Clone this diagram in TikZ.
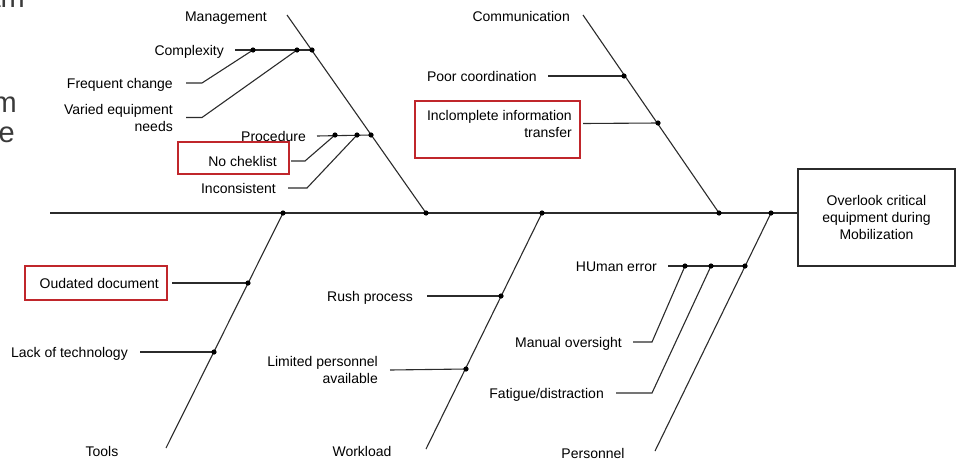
\documentclass[tikz,border=0pt]{standalone}
\usepackage{fontspec}
\setmainfont{Liberation Sans}
\definecolor{ln}{HTML}{2B2B2B}
\definecolor{rbox}{HTML}{C0262B}
\definecolor{frag}{HTML}{3A3A3A}
\begin{document}
\begin{tikzpicture}[x=1pt,y=-1pt,
  lbl/.style={font=\fontsize{14}{17}\selectfont, inner sep=0pt, text=black, anchor=east, text height=10pt, text depth=0pt},
  mlbl/.style={font=\fontsize{14}{17}\selectfont, inner sep=0pt, text=black, anchor=east, align=right},
  cat/.style={font=\fontsize{14}{17}\selectfont, inner sep=0pt, text=black, anchor=center, text height=10pt, text depth=0pt},
  bone/.style={draw=ln, line width=1.1pt},
  redbox/.style={draw=rbox, line width=1.9pt},
  fragtxt/.style={font=\fontsize{29}{34}\selectfont, text=frag, inner sep=0pt, anchor=base east},
]
\useasboundingbox (0,0) rectangle (957,461);

% cut-off fragments at left edge
\node[fragtxt] (f1) at (25,7) {am};
\node[fragtxt] (f2) at (17,112) {m};
\node[fragtxt] (f3) at (15,142) {e};

% head
\node[draw=ln, line width=1.1pt, minimum width=157pt, minimum height=97pt, inner sep=0pt,
      font=\fontsize{14}{17}\selectfont, align=center] (head) at (876.5,217.5)
      {Overlook critical\\equipment during\\Mobilization};

% spine
\coordinate (tail) at (50,213);
\draw[bone] (tail) -- (tail -| head.west);

% junctions on spine
\coordinate (jT) at (283,213);
\coordinate (jM) at (426,213);
\coordinate (jW) at (542,213);
\coordinate (jC) at (719,213);
\coordinate (jP) at (771,213);
% bone ends
\coordinate (eM) at (287,15);
\coordinate (eC) at (583,15);
\coordinate (eT) at (166,448);
\coordinate (eW) at (426,449);
\coordinate (eP) at (655,451);
\draw[bone] (eM) -- (jM);
\draw[bone] (eC) -- (jC);
\draw[bone] (eT) -- (jT);
\draw[bone] (eW) -- (jW);
\draw[bone] (eP) -- (jP);

% category labels
\node[lbl] (mgmt) at (267,16) {Management};
\node[lbl] (comm) at (570,16) {Communication};
\node[cat] (tools) at (102,451) {Tools};
\node[cat] (work) at (362,451) {Workload};
\node[cat] (pers) at (593,453) {Personnel};

% ---- Management
\coordinate (mA) at (312,50);
\coordinate (mB) at (297,50);
\coordinate (mC) at (253,50);
\node[lbl] (cmpx) at (224,50) {Complexity};
\draw[bone] (cmpx.east) ++(11,0) -- (mA);
\node[lbl] (fchg) at (173,83) {Frequent change};
\draw[bone] (fchg.east) ++(13,0) -- ++(16,0) -- (mC);
\node[mlbl] (vary) at (173,117.5) {Varied equipment\\needs};
\draw[bone] (vary.east) ++(13,0) -- ++(16,0) -- (mB);

\coordinate (pA) at (371,135);
\coordinate (pB) at (357,135);
\coordinate (pC) at (335,135);
\node[lbl] (proc) at (306,136) {Procedure};
\draw[bone] (proc.east) ++(11,0) -- (pA);
\node[lbl] (nock) at (277,161) {No cheklist};
\draw[bone] (nock.east) ++(14,0) -- ++(14,0) -- (pC);
\node[lbl] (incs) at (276,188) {Inconsistent};
\draw[bone] (incs.east) ++(12,0) -- ++(19,0) -- (pB);
\draw[redbox] (178,142) rectangle (289,174);

% ---- Communication
\coordinate (cA) at (624,76);
\coordinate (cB) at (658,123);
\node[lbl] (poor) at (537,76) {Poor coordination};
\draw[bone] (poor.east) ++(11,0) -- (cA);
\node[mlbl] (inc) at (572,123.5) {Inclomplete information\\transfer};
\draw[bone] (inc.east) ++(11,0) -- (cB);
\draw[redbox] (415,101) rectangle (580,158);

% ---- Tools
\coordinate (tA) at (248,283);
\coordinate (tB) at (214,352);
\node[lbl] (oud) at (159,283) {Oudated document};
\draw[bone] (oud.east) ++(13,0) -- (tA);
\draw[redbox] (25,266) rectangle (167,300);
\node[lbl] (lack) at (128,352) {Lack of technology};
\draw[bone] (lack.east) ++(12,0) -- (tB);

% ---- Workload
\coordinate (wA) at (501,296);
\coordinate (wB) at (466,369);
\node[lbl] (rush) at (413,296) {Rush process};
\draw[bone] (rush.east) ++(14,0) -- (wA);
\node[mlbl] (limit) at (378,370) {Limited personnel\\available};
\draw[bone] (limit.east) ++(12,0) -- (wB);

% ---- Personnel
\coordinate (hP) at (745,266);
\coordinate (hA) at (685,266);
\coordinate (hB) at (711,266);
\node[lbl] (hum) at (657,266) {HUman error};
\draw[bone] (hum.east) ++(11,0) -- (hP);
\node[lbl] (man) at (622,342) {Manual oversight};
\draw[bone] (man.east) ++(11,0) -- ++(19,0) -- (hA);
\node[lbl] (fat) at (604,393) {Fatigue/distraction};
\draw[bone] (fat.east) ++(12,0) -- ++(36,0) -- (hB);

% dots
\foreach \p in {jT,jM,jW,jC,jP,mA,mB,mC,pA,pB,pC,cA,cB,tA,tB,wA,wB,hP,hA,hB}
  \fill[black] (\p) circle (2.6pt);
\end{tikzpicture}
\end{document}
